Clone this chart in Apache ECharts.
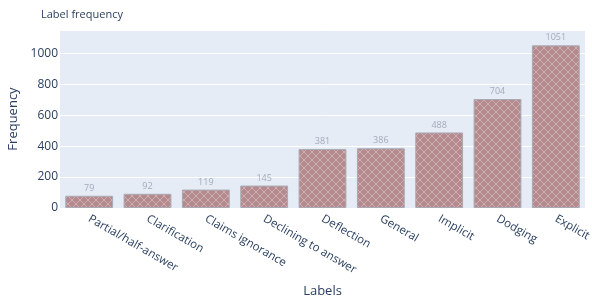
<!DOCTYPE html>
<html>
<head>
    <meta charset="UTF-8">
    <title>Label frequency</title>
    <style>
        html, body {
            margin: 0;
            padding: 0;
            width: 100%;
            height: 100%;
            overflow: hidden;
            background: #fff;
        }
        #main {
            width: 592px;
            height: 300px;
        }
    </style>
    <script src="https://cdn.jsdelivr.net/npm/echarts@6/dist/echarts.min.js"></script>
</head>
<body>
    <div id="main"></div>

    <script>
        // Data
        const labels = ['Partial/half-answer', 'Clarification', 'Claims ignorance', 'Declining to answer',
            'Deflection', 'General', 'Implicit', 'Dodging', 'Explicit'];
        const counts = [79, 92, 119, 145, 381, 386, 488, 704, 1051];

        const FONT = '"Open Sans", "DejaVu Sans", sans-serif';
        const TEXT = '#2a3f5f';

        // cross-hatch ("x") pattern for the bars
        function makePattern() {
            const c = document.createElement('canvas');
            c.width = 8;
            c.height = 8;
            const ctx = c.getContext('2d');
            ctx.fillStyle = '#b48a8e';
            ctx.fillRect(0, 0, 8, 8);
            ctx.strokeStyle = 'rgba(225, 205, 208, 0.55)';
            ctx.lineWidth = 1;
            ctx.beginPath();
            ctx.moveTo(0, 0); ctx.lineTo(8, 8);
            ctx.moveTo(8, 0); ctx.lineTo(0, 8);
            ctx.stroke();
            return c;
        }

        const chart = echarts.init(document.getElementById('main'));

        chart.setOption({
            animation: false,
            textStyle: { fontFamily: FONT },
            title: {
                text: 'Label frequency',
                left: 36,
                top: 4,
                textStyle: { fontFamily: FONT, fontSize: 11, fontWeight: 'normal', color: TEXT }
            },
            grid: {
                left: 60,
                right: 7,
                top: 30,
                bottom: 92,
                outerBoundsMode: 'none',
                containLabel: false,
                show: true,
                backgroundColor: '#E5ECF6',
                borderWidth: 0
            },
            xAxis: {
                type: 'category',
                data: labels,
                name: 'Labels',
                nameLocation: 'middle',
                nameGap: 77,
                nameTextStyle: { fontFamily: FONT, fontSize: 13, color: TEXT },
                axisLine: { show: false },
                axisTick: { show: false },
                axisLabel: {
                    rotate: -30,
                    interval: 0,
                    margin: 10,
                    fontSize: 11.5,
                    color: TEXT,
                    fontFamily: FONT
                }
            },
            yAxis: {
                type: 'value',
                min: 0,
                max: 1150,
                interval: 200,
                name: 'Frequency',
                nameLocation: 'middle',
                nameGap: 35,
                nameTextStyle: { fontFamily: FONT, fontSize: 13, color: TEXT },
                axisLine: { show: false },
                axisTick: { show: false },
                axisLabel: {
                    margin: 2,
                    fontSize: 12,
                    color: TEXT,
                    fontFamily: FONT,
                    showMaxLabel: false,
                    formatter: v => String(v)
                },
                splitLine: { lineStyle: { color: '#ffffff', width: 1 } }
            },
            series: [{
                type: 'bar',
                data: counts,
                barCategoryGap: '18%',
                itemStyle: {
                    color: { image: makePattern(), repeat: 'repeat' },
                    borderColor: '#a9aab4',
                    borderWidth: 1
                },
                label: {
                    show: true,
                    position: 'top',
                    distance: 3,
                    fontSize: 9,
                    color: '#a3abbb',
                    fontFamily: FONT
                }
            }]
        });
    </script>
</body>
</html>
